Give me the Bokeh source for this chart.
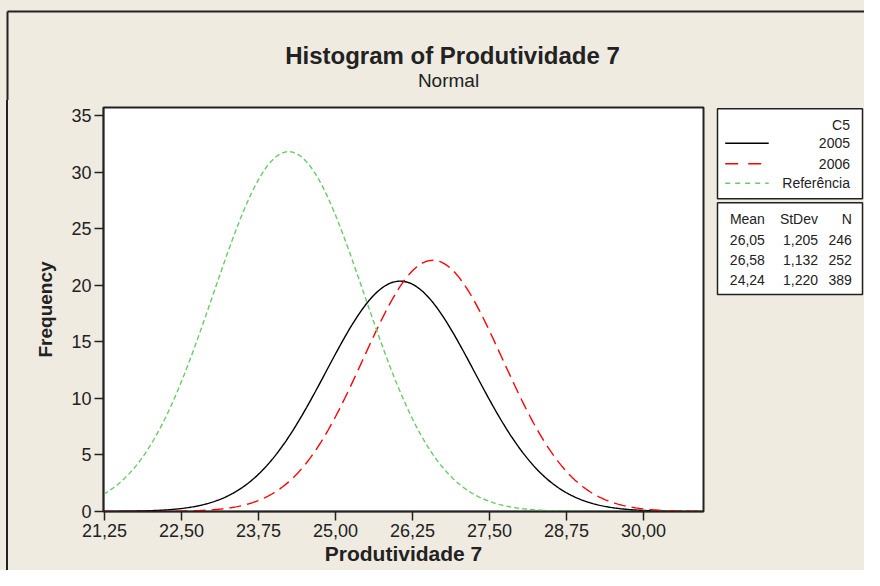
import numpy as np
from bokeh.plotting import figure
from bokeh.models import Range1d, FixedTicker, Div
from bokeh.layouts import column, row
from bokeh.embed import file_html
from bokeh.resources import INLINE
from bokeh.core.properties import value

# ---- data ----
groups = ["2005", "2006", "Referência"]
means = [26.05, 26.58, 24.24]
stdevs = [1.205, 1.132, 1.220]
counts = [246, 252, 389]
bin_width = 0.25
mean_labels = ["26,05", "26,58", "24,24"]
stdev_labels = ["1,205", "1,132", "1,220"]
n_labels = ["246", "252", "389"]
stat_headers = ["Mean", "StDev", "N"]
legend_title = "C5"
x_ticks = [21.25, 22.50, 23.75, 25.00, 26.25, 27.50, 28.75, 30.00]
x_tick_labels = ["21,25", "22,50", "23,75", "25,00", "26,25", "27,50", "28,75", "30,00"]
y_ticks = [0, 5, 10, 15, 20, 25, 30, 35]
title = "Histogram of Produtividade 7"
subtitle = "Normal"
x_label = "Produtividade 7"
y_label = "Frequency"

# ---- styles ----
colors = ["black", "#FF0000", "#66CC66"]
dashes = ["solid", "12 6", "5 3"]
legend_dashes = ["solid", "13 10", "5 5"]
BG = "#EFEBE1"
INK = "#222222"
FONT = "Liberation Sans"

x0, x1 = 21.234, 30.974
y0, y1 = 0.0, 35.71

# page geometry
TOP_H = 100
FR_TOP, FR_BOT = 107, 511
TOTAL_W, TOTAL_H = 864, 570
LEFT_W = 8
MAIN_W = 700
SIDE_X = LEFT_W + MAIN_W


def bare(f):
    f.outline_line_color = None
    f.grid.visible = False
    return f


# ---- top strip: outer frame line + titles ----
top = bare(figure(width=TOTAL_W, height=TOP_H, x_range=Range1d(0, TOTAL_W),
                  y_range=Range1d(TOP_H, 0), min_border=0,
                  x_axis_type=None, y_axis_type=None,
                  output_backend="svg", toolbar_location=None,
                  background_fill_color=BG, border_fill_color=BG))
top.line([7, TOTAL_W], [11, 11], line_color=INK, line_width=2)
top.line([7, 7], [11, TOP_H], line_color=INK, line_width=2)
top.text(x=[452], y=[55], text=[title], text_align="center", text_baseline="middle",
         text_font=value(FONT), text_font_size="24px", text_font_style="bold",
         text_color=INK)
top.text(x=[448], y=[80], text=[subtitle], text_align="center", text_baseline="middle",
         text_font=value(FONT), text_font_size="19px", text_color=INK)

# ---- left strip: outer frame line ----
left = Div(text="", width=LEFT_W, height=TOTAL_H - TOP_H, margin=0,
           styles={"border-right": "2px solid " + INK, "background-color": BG,
                   "box-sizing": "border-box", "padding": "0px"})

# ---- main plot ----
p = figure(frame_width=600, frame_height=FR_BOT - FR_TOP,
           min_border_left=103 - LEFT_W, min_border_right=5,
           min_border_top=FR_TOP - TOP_H, min_border_bottom=TOTAL_H - FR_BOT,
           x_range=Range1d(x0, x1), y_range=Range1d(y0, y1),
           output_backend="svg", toolbar_location=None,
           background_fill_color="white", border_fill_color=BG)
p.outline_line_color = INK
p.outline_line_width = 2
p.grid.visible = False

xs = np.linspace(x0, x1, 500)
for g, m, s, n, c, d in zip(groups, means, stdevs, counts, colors, dashes):
    ys = n * bin_width * np.exp(-0.5 * ((xs - m) / s) ** 2) / (s * np.sqrt(2 * np.pi))
    p.line(xs, ys, line_color=c, line_dash=d, line_width=1.4)

p.xaxis.ticker = FixedTicker(ticks=x_ticks)
p.xaxis.major_label_overrides = {t: l for t, l in zip(x_ticks, x_tick_labels)}
p.yaxis.ticker = FixedTicker(ticks=y_ticks)
p.xaxis.axis_label = x_label
p.yaxis.axis_label = y_label
for ax in (p.xaxis, p.yaxis):
    ax.axis_line_color = INK
    ax.axis_line_width = 1.5
    ax.major_tick_line_color = INK
    ax.major_tick_line_width = 1.5
    ax.major_tick_in = 0
    ax.major_tick_out = 9
    ax.minor_tick_line_color = None
    ax.major_label_text_font = FONT
    ax.major_label_text_font_size = "18px"
    ax.major_label_text_color = INK
    ax.axis_label_text_font = FONT
    ax.axis_label_text_font_style = "bold"
    ax.axis_label_text_color = INK
p.yaxis.major_label_standoff = 3
p.xaxis.major_label_standoff = 3
p.yaxis.axis_label_text_font_size = "19px"
p.xaxis.axis_label_text_font_size = "21px"
p.yaxis.axis_label_standoff = 12
p.xaxis.axis_label_standoff = 2

# ---- right strip: legend boxes (page pixel coordinates) ----
side = bare(figure(frame_width=TOTAL_W - SIDE_X, frame_height=FR_BOT - FR_TOP,
                   min_border_left=0, min_border_right=0,
                   min_border_top=FR_TOP - TOP_H, min_border_bottom=TOTAL_H - FR_BOT,
                   x_range=Range1d(SIDE_X, TOTAL_W), y_range=Range1d(FR_BOT, FR_TOP),
                   x_axis_type=None, y_axis_type=None,
                   output_backend="svg", toolbar_location=None,
                   background_fill_color=BG, border_fill_color=BG))
side.quad(left=[717], right=[862], top=[108.3], bottom=[198.3],
          fill_color="white", line_color=INK, line_width=1.5)
side.quad(left=[717], right=[862], top=[202.3], bottom=[294],
          fill_color="white", line_color=INK, line_width=1.5)

txt_right = 849.5
leg_y = [142.7, 163.3, 182.7]
side.text(x=[txt_right], y=[124], text=[legend_title], text_align="right",
          text_baseline="middle", text_font=value(FONT), text_font_size="14px",
          text_color=INK)
for c, d, yy in zip(colors, legend_dashes, leg_y):
    side.segment(x0=[724.7], y0=[yy], x1=[768.2], y1=[yy], line_color=c, line_dash=d,
                 line_width=1.4)
side.text(x=[txt_right] * len(groups), y=leg_y, text=groups, text_align="right",
          text_baseline="middle", text_font=value(FONT), text_font_size="14px",
          text_color=INK)

col_x = [764.4, 817.5, 851.4]
side.text(x=col_x, y=[218.3] * 3, text=stat_headers, text_align="right",
          text_baseline="middle", text_font=value(FONT), text_font_size="14px",
          text_color=INK)
row_y = [239.3, 259.3, 279.3]
for cx, col in zip(col_x, [mean_labels, stdev_labels, n_labels]):
    side.text(x=[cx] * len(col), y=row_y, text=col, text_align="right",
              text_baseline="middle", text_font=value(FONT), text_font_size="14px",
              text_color=INK)

layout = column(top, row(left, p, side, styles={"background-color": BG}),
                styles={"background-color": BG})
open("out.html", "w").write(file_html(layout, INLINE))
